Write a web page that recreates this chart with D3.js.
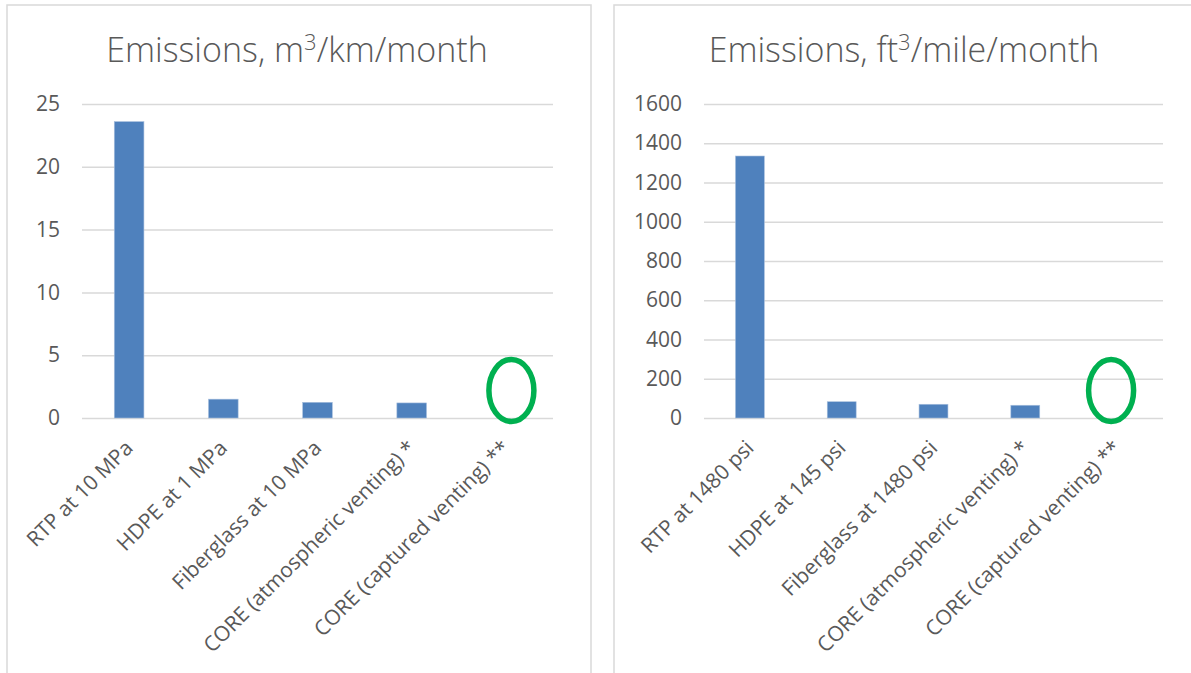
<!DOCTYPE html>
<html>
<head>
<meta charset="utf-8">
<script src="https://cdn.jsdelivr.net/npm/d3@7"></script>
<style>
  html, body { margin: 0; padding: 0; background: #ffffff; }
  svg { display: block; }
  text { font-family: "Open Sans", "Noto Sans", sans-serif; }
</style>
</head>
<body>
<svg id="chart" width="1191" height="673"></svg>
<script>
// Metric panel
const categoriesMetric = ["RTP at 10 MPa", "HDPE at 1 MPa", "Fiberglass at 10 MPa",
  "CORE (atmospheric venting) *", "CORE (captured venting) **"];
const valuesMetric = [23.6, 1.5, 1.25, 1.2, 0];
const ticksMetric = [0, 5, 10, 15, 20, 25];

// Imperial panel
const categoriesImperial = ["RTP at 1480 psi", "HDPE at 145 psi", "Fiberglass at 1480 psi",
  "CORE (atmospheric venting) *", "CORE (captured venting) **"];
const valuesImperial = [1335, 83, 70, 65, 0];
const ticksImperial = [0, 200, 400, 600, 800, 1000, 1200, 1400, 1600];

const svg = d3.select("#chart");
const TEXT = "#595959", GRID = "#d9d9d9", BAR = "#4f81bd", RING = "#00b050";

function drawPanel(cfg) {
  const g = svg.append("g");

  // chart frame
  g.append("rect")
    .attr("x", cfg.frame[0]).attr("y", cfg.frame[1])
    .attr("width", cfg.frame[2]).attr("height", cfg.frame[3])
    .attr("fill", "#fff").attr("stroke", GRID).attr("stroke-width", 1.5);

  // title with superscript unit
  const title = g.append("text")
    .attr("x", cfg.titleX).attr("y", 62)
    .attr("text-anchor", "middle")
    .attr("fill", TEXT)
    .style("font-size", "34px").style("font-weight", 300);
  title.append("tspan").text(cfg.titlePre);
  title.append("tspan").attr("dy", -12).style("font-size", "22px").text("3");
  title.append("tspan").attr("dy", 12).text(cfg.titlePost);

  const x = d3.scaleBand().domain(cfg.categories).range(cfg.xRange).paddingInner(0).paddingOuter(0);
  const y = d3.scaleLinear().domain(cfg.domain).range([418, 104]);

  // gridlines
  g.append("g")
    .attr("transform", `translate(${cfg.xRange[0]},0)`)
    .call(d3.axisLeft(y).tickValues(cfg.ticks).tickSize(-(cfg.xRange[1] - cfg.xRange[0])).tickFormat(""))
    .call(a => a.select(".domain").remove())
    .call(a => a.selectAll("line").attr("stroke", GRID).attr("stroke-width", 1.5));

  // y tick labels
  g.append("g")
    .attr("transform", `translate(${cfg.xRange[0] - 22},0)`)
    .call(d3.axisLeft(y).tickValues(cfg.ticks).tickSize(0).tickPadding(0).tickFormat(d3.format("d")))
    .call(a => a.select(".domain").remove())
    .call(a => a.selectAll("text")
      .attr("fill", TEXT)
      .style("font-size", "21px")
      .style("font-family", "\"Open Sans\", sans-serif"));

  // bars
  const bw = x.bandwidth() * 0.315;
  g.append("g").selectAll("rect")
    .data(cfg.values)
    .join("rect")
    .attr("x", (d, i) => x(cfg.categories[i]) + x.bandwidth() / 2 - bw / 2)
    .attr("y", d => y(d))
    .attr("width", bw)
    .attr("height", d => y(0) - y(d))
    .attr("fill", BAR)
    .attr("stroke", "#a9c0de").attr("stroke-width", 0.6);

  // rotated category labels
  g.append("g").selectAll("text")
    .data(cfg.categories)
    .join("text")
    .attr("transform", d => `translate(${x(d) + x.bandwidth() / 2},444) rotate(-45)`)
    .attr("text-anchor", "end")
    .attr("dy", "0.35em")
    .attr("fill", TEXT)
    .style("font-size", "21px")
    .text(d => d);

  // green ring highlighting the captured-venting option
  const last = cfg.categories[cfg.categories.length - 1];
  g.append("ellipse")
    .attr("cx", x(last) + x.bandwidth() / 2 + cfg.ringDx)
    .attr("cy", 390.5)
    .attr("rx", 22.5).attr("ry", 31)
    .attr("fill", "none")
    .attr("stroke", RING).attr("stroke-width", 5.5);
}

drawPanel({
  frame: [7, 5, 584, 700],
  titleX: 297, titlePre: "Emissions, m", titlePost: "/km/month",
  categories: categoriesMetric, values: valuesMetric, ticks: ticksMetric,
  domain: [0, 25], xRange: [82, 553], ringDx: 5.5
});

drawPanel({
  frame: [614, 5, 600, 700],
  titleX: 904, titlePre: "Emissions, ft", titlePost: "/mile/month",
  categories: categoriesImperial, values: valuesImperial, ticks: ticksImperial,
  domain: [0, 1600], xRange: [704, 1163], ringDx: -6
});
</script>
</body>
</html>
